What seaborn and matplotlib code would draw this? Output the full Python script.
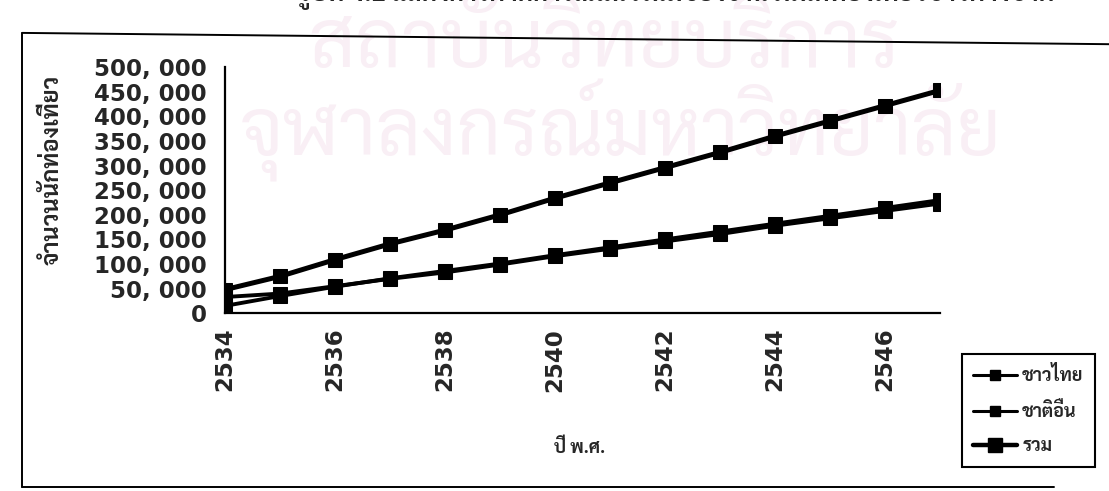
import matplotlib
matplotlib.use("Agg")
import matplotlib.pyplot as plt
import seaborn as sns
import pandas as pd
from matplotlib import font_manager
from matplotlib.lines import Line2D

# ---------------- data ----------------
years = [2534, 2535, 2536, 2537, 2538, 2539, 2540, 2541, 2542, 2543, 2544, 2545, 2546, 2547]
thai = [33000, 40000, 55000, 70000, 83000, 99000, 116000, 131000, 146000, 161000, 178000, 193000, 208000, 223000]
foreign = [15000, 35000, 54000, 71000, 86000, 101000, 118000, 134000, 150000, 166000, 182000, 198000, 214000, 230000]
total = [48000, 75000, 109000, 141000, 169000, 200000, 234000, 265000, 296000, 327000, 360000, 391000, 422000, 453000]
series_names = ["ชาวไทย", "ชาติอื่น", "รวม"]
y_ticks = [0, 50000, 100000, 150000, 200000, 250000, 300000, 350000, 400000, 450000, 500000]
y_labels = ["0", "50, 000", "100, 000", "150, 000", "200, 000", "250, 000", "300, 000",
            "350, 000", "400, 000", "450, 000", "500, 000"]
x_label = "ปี พ.ศ."
y_label = "จำนวนนักท่องเที่ยว"
title_text = "รูปที่ 4.2 แสดงการคาดการณ์แนวโน้มของจำนวนนักท่องเที่ยวชาวต่างชาติ"
watermark1 = "สถาบันวิทยบริการ"
watermark2 = "จุฬาลงกรณ์มหาวิทยาลัย"

# ---------------- fonts ----------------
sns.set_theme(style="white")
names = {f.name for f in font_manager.fontManager.ttflist}
thai_font = None
for cand in ["Sarabun", "Bai Jamjuree", "Chakra Petch", "Athiti", "Noto Sans Thai", "Noto Sans Thai Looped"]:
    if cand in names:
        thai_font = cand
        break
if thai_font is None:
    thai_font = "DejaVu Sans"
plt.rcParams["font.family"] = [thai_font, "DejaVu Sans"]

df = pd.DataFrame({
    "year": years * 3,
    "value": thai + foreign + total,
    "series": [series_names[0]] * len(years) + [series_names[1]] * len(years) + [series_names[2]] * len(years),
})

fig = plt.figure(figsize=(11.09, 4.91), dpi=100)

# pale watermark behind the chart (drawn first)
fig.text(0.545, 0.905, watermark1, ha="center", va="center", fontsize=58,
         color="#f9eff5", zorder=-5)
fig.text(0.560, 0.735, watermark2, ha="center", va="center", fontsize=56,
         color="#f9eff5", zorder=-5)

ax = fig.add_axes([0.2029, 0.362, 0.6447, 0.501])
ax.set_facecolor("none")

sns.lineplot(data=df, x="year", y="value", hue="series", style="series",
             palette={series_names[0]: "black", series_names[1]: "black", series_names[2]: "black"},
             markers={series_names[0]: "s", series_names[1]: "s", series_names[2]: "s"},
             dashes=False, size="series",
             sizes={series_names[0]: 2.8, series_names[1]: 2.8, series_names[2]: 3.6},
             markersize=10, markeredgecolor="black", legend=False, ax=ax)

ax.set_xlim(years[0], years[-1])
ax.set_ylim(y_ticks[0], y_ticks[-1])
for s in ["top", "right"]:
    ax.spines[s].set_visible(False)
for s in ["left", "bottom"]:
    ax.spines[s].set_color("black")
    ax.spines[s].set_linewidth(1.6)

ax.set_yticks(y_ticks)
ax.set_yticklabels(y_labels, family="DejaVu Sans", fontweight="bold", fontsize=16.5)
ax.set_xticks(years)
ax.set_xticklabels([str(y) if (y - years[0]) % 2 == 0 else "" for y in years],
                   family="DejaVu Sans", fontweight="bold", fontsize=16.5, rotation=90)
ax.tick_params(axis="y", direction="inout", length=18, width=1.5, color="black", pad=4)
ax.tick_params(axis="x", direction="inout", length=15, width=1.5, color="black", pad=3)
ax.set_xlabel("")
ax.set_ylabel("")
ax.grid(False)

fig.text(0.047, 0.655, y_label, rotation=90, ha="center", va="center",
         fontsize=17, fontweight="bold")
fig.text(0.523, 0.088, x_label, ha="center", va="center", fontsize=13, fontweight="bold")

# partially cropped caption at top
fig.text(0.61, 1.016, title_text, ha="center", va="center", fontsize=18, fontweight="bold")

# outer frame
fig.add_artist(Line2D([0.020, 1.0], [0.933, 0.910], color="black", lw=1.4, transform=fig.transFigure))
fig.add_artist(Line2D([0.020, 0.020], [0.933, 0.008], color="black", lw=1.4, transform=fig.transFigure))
fig.add_artist(Line2D([0.020, 0.95], [0.008, 0.008], color="black", lw=1.4, transform=fig.transFigure))

# legend
handles = [
    Line2D([], [], color="black", lw=2.2, marker="s", markersize=7),
    Line2D([], [], color="black", lw=2.2, marker="s", markersize=7),
    Line2D([], [], color="black", lw=3.2, marker="s", markersize=10),
]
leg = fig.legend(handles, series_names, loc="upper left", bbox_to_anchor=(0.859, 0.297),
                 frameon=True, fancybox=False, edgecolor="black", framealpha=1,
                 prop={"weight": "bold", "size": 13}, handlelength=2.4,
                 handletextpad=0.3, labelspacing=0.95, borderpad=0.65)
leg.get_frame().set_linewidth(1.5)

fig.savefig("out.png", dpi=100)
